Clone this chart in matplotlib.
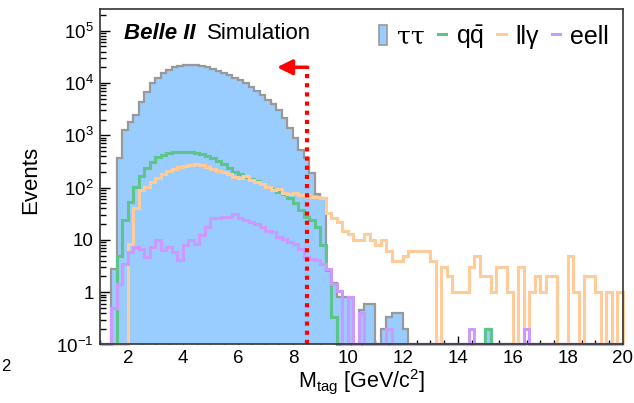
import numpy as np
import matplotlib
matplotlib.use("Agg")
import matplotlib.pyplot as plt
from matplotlib.patches import Patch
from matplotlib.lines import Line2D

plt.rcParams['font.family'] = ['Liberation Sans', 'DejaVu Sans']
plt.rcParams['mathtext.fontset'] = 'custom'
plt.rcParams['mathtext.rm'] = 'Liberation Sans'
plt.rcParams['mathtext.it'] = 'Liberation Sans:italic'
plt.rcParams['mathtext.bf'] = 'Liberation Sans:bold'

# histogram binning: 0.2 GeV/c^2 bins from 1 to 20
bin_lo = 1.0
bin_hi = 20.0
bin_width = 0.2

# bin contents, one entry per bin starting at 1.0
tautau = [0, 0, 2.8, 360, 1260, 1820, 2450, 4400, 6800, 9800,
          12300, 15500, 17800, 20000, 21400, 22100, 22100, 21900, 21400, 20000,
          18600, 17000, 15500, 14100, 12600, 11200, 9800, 8500, 7100, 5900,
          4800, 3900, 3100, 2100, 1350, 870, 525, 360, 190, 75,
          63, 2.6, 1.5, 0.8, 0.8, 0.8, 0, 0.45, 0.6, 0.6,
          0, 0.2, 0.33, 0.4, 0.4, 0.2, 0, 0, 0, 0,
          0, 0, 0, 0, 0, 0, 0, 0, 0, 0,
          0.2, 0, 0, 0, 0, 0, 0, 0, 0, 0,
          0, 0, 0, 0, 0, 0, 0, 0, 0, 0,
          0, 0, 0, 0, 0]
qqbar = [0, 0, 0, 5, 24, 54, 102, 166, 240, 309,
         380, 427, 457, 479, 479, 479, 479, 457, 437, 398,
         363, 324, 282, 240, 200, 178, 158, 145, 132, 117,
         102, 93, 83, 74, 62, 50, 37, 28, 24, 18,
         8, 2.6, 0.33, 0, 0, 0, 0, 0, 0, 0,
         0, 0, 0, 0, 0, 0, 0, 0, 0, 0,
         0, 0, 0, 0, 0, 0, 0, 0, 0, 0,
         0.2, 0, 0, 0, 0, 0, 0, 0, 0, 0,
         0, 0, 0, 0, 0, 0, 0, 0, 0, 0,
         0, 0, 0, 0, 0]
llgamma = [0, 0, 0, 0, 0, 8.5, 40, 89, 102, 129,
           155, 182, 204, 229, 251, 263, 269, 282, 269, 251,
           229, 209, 200, 182, 162, 151, 166, 141, 126, 117,
           102, 91, 95, 79, 74, 78, 71, 74, 66, 66,
           62, 32, 26, 22, 15, 13, 10, 10, 13, 10,
           8, 10, 6, 4, 4, 5, 6, 6, 6, 6,
           4, 0, 3, 2, 1, 1, 1, 3, 5, 2,
           2, 1, 3, 3, 1, 0, 3, 0, 1, 2,
           1, 2, 2, 0, 0, 5, 1, 0, 2, 2,
           1, 0, 1, 0, 1]
eell = [0, 0, 0.5, 1.45, 3.5, 5.9, 7.3, 6.8, 4.7, 7.3,
        9.8, 6.3, 7.3, 5.9, 4.1, 7.9, 9.8, 8.5, 12.3, 17.8,
        25.7, 25.7, 27.5, 27.5, 31.6, 25.7, 24, 22.4, 20.4, 17.8,
        15.1, 14.1, 11.5, 10.5, 9.1, 8.5, 6.8, 4.7, 4.4, 4.1,
        3.5, 2.8, 1.45, 1.07, 0, 0.8, 0, 0.4, 0, 0,
        0, 0, 0.2, 0, 0, 0, 0, 0, 0, 0,
        0, 0, 0, 0, 0, 0, 0, 0.2, 0, 0,
        0, 0, 0, 0, 0, 0, 0, 0.2, 0, 0,
        0, 0, 0, 0, 0, 0, 0, 0, 0, 0,
        0, 0, 0, 0, 0]

cut_value = 8.5
arrow_end = 7.42
arrow_height = 2.0e4

ytick_vals = [1e-1, 1, 10, 1e2, 1e3, 1e4, 1e5]
ytick_labels = [r'$10^{-1}$', '1', '10', r'$10^{2}$', r'$10^{3}$',
                r'$10^{4}$', r'$10^{5}$']

blue = '#99ccff'
grey = '#999999'
green = '#5ec48c'
orange = '#ffcc99'
purple = '#cc99ff'
ymin = 0.1


def to_plot(values):
    # empty bins are drawn on the frame, like ROOT does
    arr = np.array(values, dtype=float)
    arr[arr <= 0] = ymin
    return arr


def main():
    edges = np.linspace(bin_lo, bin_hi, len(tautau) + 1)

    dpi = 100
    fig = plt.figure(figsize=(634 / dpi, 403 / dpi), dpi=dpi)
    ax = fig.add_axes([0.1585, 0.1452, 0.8241, 0.8325])
    ax.set_yscale('log')

    ax.stairs(to_plot(tautau), edges, baseline=ymin, fill=True,
              color=blue, lw=0, zorder=2)
    ax.stairs(to_plot(tautau), edges, baseline=ymin, color=grey,
              lw=1.6, zorder=3, clip_on=False)
    ax.stairs(to_plot(qqbar), edges, baseline=ymin, color=green,
              lw=2.2, zorder=4, clip_on=False)
    ax.stairs(to_plot(llgamma), edges, baseline=ymin, color=orange,
              lw=2.2, zorder=5, clip_on=False)
    ax.stairs(to_plot(eell), edges, baseline=ymin, color=purple,
              lw=2.2, zorder=6, clip_on=False)

    # cut line with arrow
    ax.plot([cut_value, cut_value], [ymin, arrow_height], color='red',
            lw=3, ls=(0, (1, 1.2)), zorder=8)
    ax.annotate('', xy=(arrow_end, arrow_height),
                xytext=(cut_value + 0.03, arrow_height),
                arrowprops=dict(arrowstyle='-|>,head_length=0.9,head_width=0.45',
                                color='red', lw=2.5, shrinkA=0, shrinkB=0),
                zorder=8)

    ax.set_xlim(bin_lo, bin_hi)
    ax.set_ylim(ymin, 2.6e5)
    ax.set_yticks(ytick_vals)
    ax.set_yticklabels(ytick_labels)
    ax.set_xticks(np.arange(2, 21, 2))
    ax.set_xticks(np.arange(1, 20.01, 0.5), minor=True)
    ax.tick_params(which='both', direction='in', top=False, right=False,
                   labelsize=13.5, width=1)
    ax.tick_params(axis='y', which='major', length=7, pad=5)
    ax.tick_params(axis='y', which='minor', length=4)
    ax.tick_params(axis='x', which='major', length=6, pad=4)
    ax.tick_params(axis='x', which='minor', length=3)
    for sp in ax.spines.values():
        sp.set_linewidth(1.2)
        sp.set_color('#333333')
        sp.set_zorder(10)

    ax.set_ylabel('Events', fontsize=16)
    ax.yaxis.set_label_coords(-0.114, 0.49)
    ax.set_xlabel(r'M$_{\mathrm{tag}}$ [GeV/c$^{2}$]', fontsize=15.5)
    ax.xaxis.set_label_coords(0.5, -0.068)

    ax.text(0.045, 0.928, 'Belle II', transform=ax.transAxes,
            fontsize=16, fontweight='bold', fontstyle='italic',
            ha='left', va='center')
    ax.text(0.204, 0.928, 'Simulation', transform=ax.transAxes,
            fontsize=16, ha='left', va='center')

    handles = [Patch(facecolor=blue, edgecolor=grey, lw=1.2),
               Line2D([], [], color=green, lw=2.2),
               Line2D([], [], color=orange, lw=2.2),
               Line2D([], [], color=purple, lw=2.2)]
    labels = ['ττ', r'$\mathrm{q\bar{q}}$', 'llγ', 'eell']
    leg = ax.legend(handles, labels, loc='upper right', ncol=4,
                    frameon=False, fontsize=18, handlelength=0.35,
                    handleheight=0.9, handletextpad=0.4,
                    columnspacing=0.5, bbox_to_anchor=(1.0, 1.0),
                    borderaxespad=0.15)
    leg.get_texts()[0].set_family(['DejaVu Serif'])

    # tick label of a neighbouring panel, left in the crop
    fig.text(0.001, 0.09, '2', fontsize=12, ha='left', va='center')

    fig.savefig('out.png', dpi=dpi)


if __name__ == "__main__":
    main()
